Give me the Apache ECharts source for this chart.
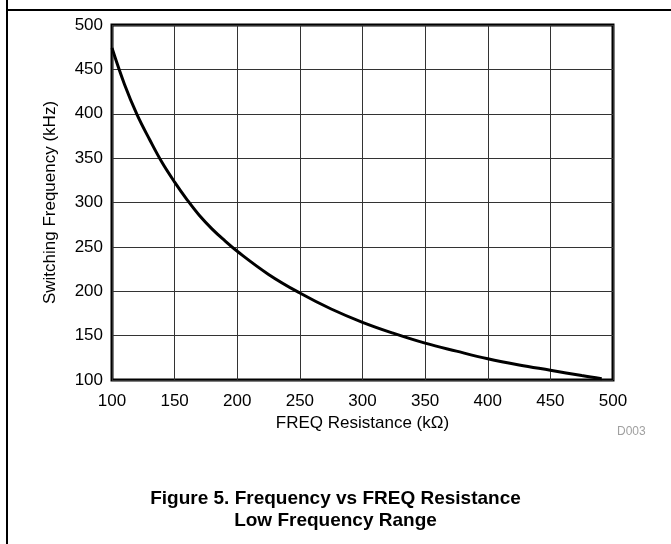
<!DOCTYPE html>
<html>
<head>
<meta charset="utf-8">
<script src="https://cdn.jsdelivr.net/npm/echarts@6/dist/echarts.min.js"></script>
<style>
html,body{margin:0;padding:0;background:#fff;}
#chart{width:671px;height:544px;}
</style>
</head>
<body>
<div id="chart"></div>
<script>
// Resistance (kOhm) and switching frequency (kHz)
var resistance = [100, 110, 120, 130, 140, 150, 160, 170, 180, 190, 200, 225, 250, 275, 300, 325, 350, 375, 400, 425, 450, 475, 491];
var frequency  = [474, 433, 399, 371, 345, 323, 303, 285, 270, 257, 245, 219, 198, 180, 165, 152.5, 141.5, 132.5, 124, 117, 111, 105, 101.5];
var xTicks = [100, 150, 200, 250, 300, 350, 400, 450, 500];
var yTicks = [100, 150, 200, 250, 300, 350, 400, 450, 500];

var points = resistance.map(function (r, i) { return [r, frequency[i]]; });
var FONT = '"Liberation Sans", Arial, Helvetica, sans-serif';

var chart = echarts.init(document.getElementById('chart'), null, {renderer: 'canvas'});
chart.setOption({
  backgroundColor: '#ffffff',
  animation: false,
  grid: {
    left: 112, top: 25, width: 501, height: 355,
    show: true, borderColor: '#000', borderWidth: 3, backgroundColor: 'transparent'
  },
  xAxis: {
    type: 'value',
    min: xTicks[0], max: xTicks[xTicks.length - 1], interval: 50,
    name: 'FREQ Resistance (kΩ)',
    nameLocation: 'middle', nameGap: 32,
    nameTextStyle: {fontFamily: FONT, fontSize: 17, color: '#000'},
    axisLine: {show: false},
    axisTick: {show: false},
    axisLabel: {fontFamily: FONT, fontSize: 17, color: '#000', margin: 13},
    splitLine: {show: true, lineStyle: {color: '#333', width: 1}}
  },
  yAxis: {
    type: 'value',
    min: yTicks[0], max: yTicks[yTicks.length - 1], interval: 50,
    name: 'Switching Frequency (kHz)',
    nameLocation: 'middle', nameGap: 53,
    nameTextStyle: {fontFamily: FONT, fontSize: 17, color: '#000'},
    axisLine: {show: false},
    axisTick: {show: false},
    axisLabel: {fontFamily: FONT, fontSize: 17, color: '#000', margin: 9},
    splitLine: {show: true, lineStyle: {color: '#333', width: 1}}
  },
  series: [{
    type: 'line',
    data: points,
    smooth: 0.4,
    showSymbol: false,
    lineStyle: {color: '#000', width: 3},
    z: 5
  }],
  graphic: [
    {type: 'line', shape: {x1: 7, y1: 0, x2: 7, y2: 544}, style: {stroke: '#000', lineWidth: 2}},
    {type: 'line', shape: {x1: 7, y1: 10, x2: 671, y2: 10}, style: {stroke: '#000', lineWidth: 2}},
    {type: 'text', left: 617, top: 426, style: {text: 'D003', fontFamily: FONT, fontSize: 12, fill: '#a0a0a0'}},
    {type: 'text', left: 'center', top: 489, style: {text: 'Figure 5. Frequency vs FREQ Resistance', fontFamily: FONT, fontSize: 19, fontWeight: 'bold', fill: '#000'}},
    {type: 'text', left: 'center', top: 511, style: {text: 'Low Frequency Range', fontFamily: FONT, fontSize: 19, fontWeight: 'bold', fill: '#000'}}
  ]
});
</script>
</body>
</html>
